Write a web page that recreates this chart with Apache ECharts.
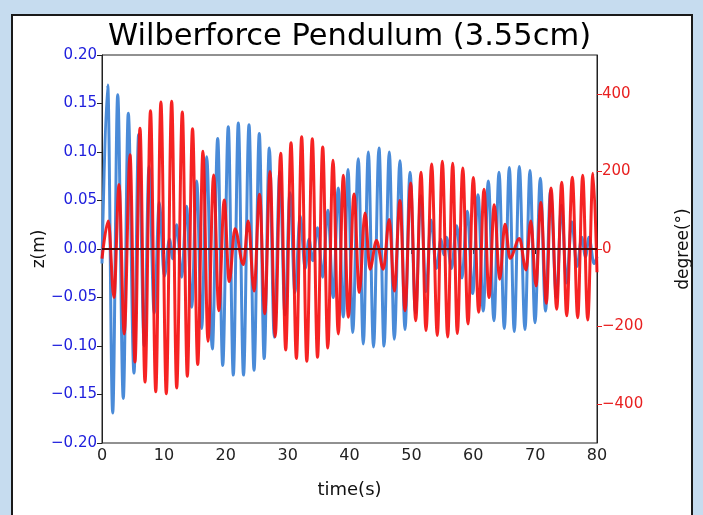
<!DOCTYPE html>
<html>
<head>
<meta charset="utf-8">
<script src="https://cdn.jsdelivr.net/npm/echarts@6/dist/echarts.min.js"></script>
<style>html,body{margin:0;padding:0;background:#c6dcef}#c{width:703px;height:515px}</style>
</head>
<body>
<div id="c"></div>
<script>
// Extremes of z(m): times (s) and values (m)
const blueT = [0,0.92,1.73,2.54,3.44,4.25,5.17,5.92,6.84,7.60,8.44,9.26,10.08,10.91,11.44,12.07,12.88,13.66,14.50,15.30,16.11,16.92,17.83,18.70,19.51,20.41,21.22,22.03,22.87,23.76,24.57,25.42,26.21,27.04,27.85,28.74,29.58,30.38,31.19,32.03,32.84,33.45,34.07,34.83,35.67,36.49,37.38,38.19,39.00,39.76,40.52,41.42,42.23,43.04,43.88,44.77,45.58,46.43,47.24,48.16,48.97,49.78,50.67,51.52,52.36,53.17,54.03,54.79,55.24,55.68,56.48,57.32,58.18,59.02,59.91,60.77,61.62,62.43,63.35,64.16,65.02,65.83,66.63,67.44,68.36,69.17,69.98,70.84,71.68,72.48,73.45,74.26,75.07,75.91,76.77,77.53,78.14,78.71,79.52,80];
const blueZ = [-0.015,0.169,-0.169,0.159,-0.154,0.140,-0.128,0.118,-0.100,0.085,-0.066,0.048,-0.028,0.010,-0.010,0.025,-0.029,0.044,-0.060,0.070,-0.082,0.095,-0.103,0.114,-0.120,0.126,-0.130,0.130,-0.130,0.128,-0.125,0.119,-0.113,0.104,-0.091,0.080,-0.068,0.058,-0.045,0.034,-0.020,0.010,-0.012,0.022,-0.029,0.040,-0.050,0.063,-0.070,0.082,-0.086,0.093,-0.098,0.100,-0.101,0.104,-0.100,0.100,-0.093,0.091,-0.083,0.079,-0.066,0.055,-0.044,0.030,-0.020,0.010,-0.006,0.012,-0.020,0.024,-0.030,0.039,-0.046,0.056,-0.064,0.070,-0.074,0.079,-0.082,0.084,-0.085,0.085,-0.083,0.081,-0.076,0.073,-0.064,0.060,-0.050,0.045,-0.035,0.028,-0.018,0.012,-0.008,0.012,-0.015,-0.008];
// Extremes of the angle (degree)
const redT = [0,1.02,1.94,2.75,3.60,4.53,5.33,6.14,6.95,7.84,8.69,9.52,10.39,11.26,12.07,12.98,13.79,14.63,15.47,16.32,17.13,18.04,18.88,19.75,20.56,21.49,22.84,23.64,24.57,25.47,26.31,27.15,27.99,28.88,29.69,30.55,31.42,32.27,33.10,33.99,34.83,35.67,36.49,37.33,38.19,39.00,39.81,40.73,41.58,42.51,43.31,44.36,45.46,46.43,47.24,48.16,48.97,49.89,50.70,51.56,52.36,53.28,54.19,55.00,55.87,56.68,57.42,58.31,59.15,60.01,60.88,61.74,62.55,63.40,64.27,65.13,65.94,67.47,68.53,69.30,70.14,70.92,71.81,72.57,73.49,74.30,75.10,76.01,76.88,77.69,78.50,79.35,80];
const redDeg = [-25,72,-125,166,-219,243,-291,311,-343,356,-368,379,-373,381,-358,353,-328,310,-298,252,-238,191,-159,126,-84,52,-40,72,-108,141,-167,200,-226,247,-260,274,-282,289,-289,284,-279,263,-255,229,-219,190,-176,142,-112,93,-52,22,-52,76,-108,125,-159,170,-185,198,-210,219,-223,226,-227,221,-218,209,-193,184,-163,154,-125,114,-78,64,-24,27,-54,72,-95,120,-140,157,-155,172,-172,185,-177,190,-183,195,-60];
const xTicks = [0,10,20,30,40,50,60,70,80];
const degTicks = [-400,-200,0,200,400];

const FONT = 'DejaVu Sans';
const chart = echarts.init(document.getElementById('c'), null, {renderer:'canvas'});
const fmtMinus = (v, d) => (v < 0 ? '\u2212' : '') + Math.abs(v).toFixed(d);

chart.setOption({
  animation: false,
  backgroundColor: '#c6dcef',
  graphic: [
    {type:'rect', shape:{x:12, y:15, width:680, height:510}, style:{fill:'#ffffff', stroke:'#1a1a1a', lineWidth:2}, z:-10},
    {type:'text', x:349.5, y:37, style:{text:'Wilberforce Pendulum (3.55cm)', font:'30.5px "DejaVu Sans"', fill:'#000', textAlign:'center', textVerticalAlign:'middle'}, z:10},
    {type:'text', x:349.5, y:490, style:{text:'time(s)', font:'18px "DejaVu Sans"', fill:'#111', textAlign:'center', textVerticalAlign:'middle'}, z:10},
    {type:'text', x:40, y:249, rotation:Math.PI/2, style:{text:'z(m)', font:'17px "DejaVu Sans"', fill:'#111', textAlign:'center', textVerticalAlign:'middle'}, z:10},
    {type:'text', x:684, y:249, rotation:Math.PI/2, style:{text:'degree(°)', font:'17px "DejaVu Sans"', fill:'#111', textAlign:'center', textVerticalAlign:'middle'}, z:10}
  ],
  grid: {left:102, right:106, top:55, bottom:72, show:true, borderColor:'#222', borderWidth:1, backgroundColor:'#fff'},
  xAxis: {
    type:'value', min:0, max:80, interval:10,
    axisLine:{show:true, lineStyle:{color:'#222', width:1}},
    axisTick:{show:true, inside:false, length:5, lineStyle:{color:'#222'}},
    axisLabel:{fontFamily:FONT, fontSize:16, color:'#222', margin:5, customValues: xTicks},
    splitLine:{show:false}
  },
  yAxis: [
    {
      type:'value', min:-0.2, max:0.2, interval:0.05, position:'left',
      axisLine:{show:true, lineStyle:{color:'#222'}},
      axisTick:{show:true, inside:false, length:5, lineStyle:{color:'#222'}},
      axisLabel:{fontFamily:FONT, fontSize:15, color:'#2020dd', margin:5, formatter:v=>fmtMinus(v,2)},
      splitLine:{show:false}
    },
    {
      type:'value', min:-500, max:500, position:'right',
      axisLine:{show:true, lineStyle:{color:'#222'}},
      axisTick:{show:true, inside:false, length:5, lineStyle:{color:'#e82020'}, customValues: degTicks},
      axisLabel:{fontFamily:FONT, fontSize:15, color:'#e82020', margin:5, customValues: degTicks, formatter:v=>fmtMinus(v,0)},
      splitLine:{show:false}
    }
  ],
  series: [
    {
      type:'line', yAxisIndex:0, showSymbol:false, smooth:0.36, smoothMonotone:'x',
      data: blueT.map((t,i)=>[t, blueZ[i]]),
      lineStyle:{color:'#4a8bd8', width:3}, z:2
    },
    {
      type:'line', yAxisIndex:1, showSymbol:false, smooth:0.36, smoothMonotone:'x',
      data: redT.map((t,i)=>[t, redDeg[i]]),
      lineStyle:{color:'#f51010', width:3, opacity:0.92}, z:3,
      markLine:{silent:true, symbol:'none', label:{show:false}, z:10,
        lineStyle:{color:'#4a0a0a', width:2, type:'solid'}, data:[{yAxis:0}]}
    }
  ]
});
</script>
</body>
</html>
